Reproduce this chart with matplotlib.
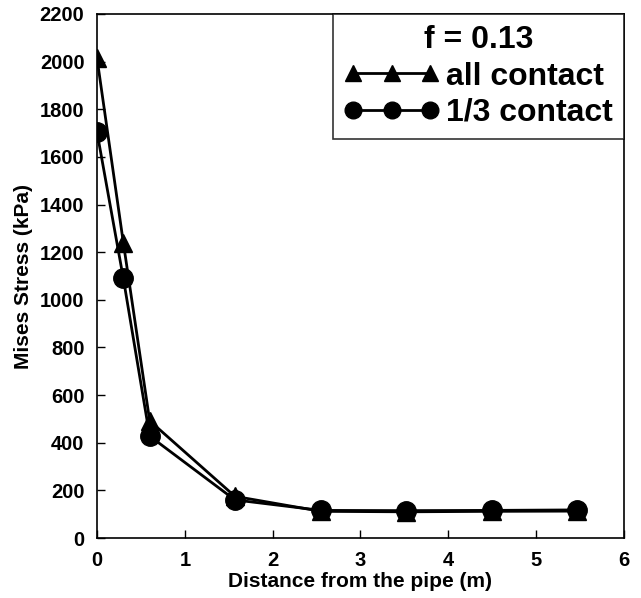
import matplotlib.pyplot as plt
import numpy as np

plt.rcParams['font.family'] = ['Liberation Sans', 'DejaVu Sans']
plt.rcParams['font.weight'] = 'bold'

distance = [0, 0.3, 0.6, 1.57, 2.55, 3.52, 4.5, 5.47]
all_contact = [2015, 1240, 492, 175, 112, 110, 112, 113]
third_contact = [1705, 1090, 428, 160, 116, 115, 116, 118]

fig = plt.figure(figsize=(6.41, 5.98), dpi=100)
ax = fig.add_axes([0.1513, 0.1003, 0.8222, 0.8763])

ax.plot(distance, all_contact, color='black', lw=2, marker='^', ms=13, label='all contact')
ax.plot(distance, third_contact, color='black', lw=2, marker='o', ms=14, label='1/3 contact')

ax.set_xlim(0, 6)
ax.set_ylim(0, 2200)
ax.set_xticks(np.arange(0, 7, 1))
ax.set_yticks(np.arange(0, 2201, 200))
ax.tick_params(direction='in', length=6, width=1, labelsize=14.5, pad=9)
for s in ax.spines.values():
    s.set_linewidth(1.2)

ax.set_xlabel('Distance from the pipe (m)', fontsize=15, fontweight='bold', labelpad=2)
ax.set_ylabel('Mises Stress (kPa)', fontsize=15, fontweight='bold', labelpad=5)

leg = ax.legend(title='f = 0.13', loc='upper right', numpoints=3, handlelength=3.0,
                fontsize=23, title_fontproperties={'size': 23, 'weight': 'bold'},
                fancybox=False, edgecolor='black', borderaxespad=0,
                handletextpad=0.2, labelspacing=0.2, borderpad=0.35)
leg.get_frame().set_linewidth(1.2)
for h in leg.legend_handles:
    h.set_markersize(12)

fig.savefig('out.png', dpi=100)
